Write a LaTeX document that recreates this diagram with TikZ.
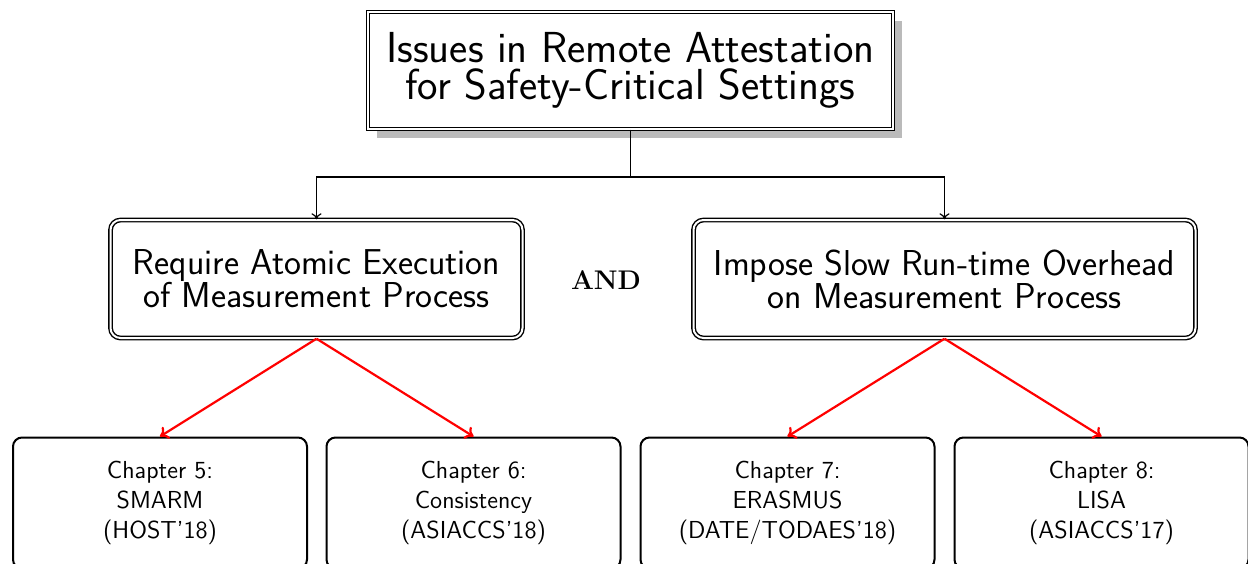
\documentclass[tikz,border=0pt]{standalone}
\usetikzlibrary{shadows,arrows.meta}
\begin{document}
\begin{tikzpicture}[x=0.5pt,y=-0.5pt,
  topbox/.style={draw, double, line width=0.7pt, double distance=1pt,
    fill=white, minimum width=262.5pt, minimum height=58.5pt, inner sep=0pt,
    font=\sffamily\fontsize{21.7}{18.8}\selectfont, align=center,
    drop shadow={shadow xshift=4.5pt, shadow yshift=-4.5pt, fill=black!27, opacity=1}},
  midbox/.style={draw, double, line width=0.7pt, double distance=1pt,
    rounded corners=5pt, minimum height=59pt, inner sep=0pt,
    font=\sffamily\fontsize{18}{16.5}\selectfont, align=center},
  chapbox/.style={draw, line width=1pt, rounded corners=4.5pt,
    minimum width=147pt, minimum height=65.5pt, inner sep=0pt,
    font=\sffamily\fontsize{12.3}{15.2}\selectfont, align=center},
  blackarrow/.style={-{To[length=3pt,width=5pt]}, line width=0.6pt},
  redarrow/.style={-{To[length=4pt,width=7pt]}, red, line width=1.1pt}]
\useasboundingbox (0,0) rectangle (1248,563);
\clip (0,0) rectangle (1248,563);

\node[topbox] (top) at (630.5,70.5) {Issues in Remote Attestation\\for Safety-Critical Settings};

\node[midbox, minimum width=206pt] (left) at (316.5,279) {Require Atomic Execution\\of Measurement Process};
\node[midbox, minimum width=251pt] (right) at (944.5,279) {Impose Slow Run-time Overhead\\on Measurement Process};

\node[font=\rmfamily\bfseries\fontsize{13.5}{16}\selectfont] (and) at (606,280) {AND};

\node[chapbox] (c5) at (160,503) {Chapter 5:\\SMARM\\(HOST'18)};
\node[chapbox] (c6) at (473.5,503) {Chapter 6:\\Consistency\\(ASIACCS'18)};
\node[chapbox] (c7) at (787.5,503) {Chapter 7:\\ERASMUS\\(DATE/TODAES'18)};
\node[chapbox] (c8) at (1101.5,503) {Chapter 8:\\LISA\\(ASIACCS'17)};

\coordinate (split) at (630.5,177);
\draw[line width=0.6pt] (top.south) -- (split);
\draw[blackarrow] (split) -| (left.north);
\draw[blackarrow] (split) -| (right.north);

\draw[redarrow] (left.south) -- (c5.north);
\draw[redarrow] (left.south) -- (c6.north);
\draw[redarrow] (right.south) -- (c7.north);
\draw[redarrow] (right.south) -- (c8.north);
\end{tikzpicture}
\end{document}
